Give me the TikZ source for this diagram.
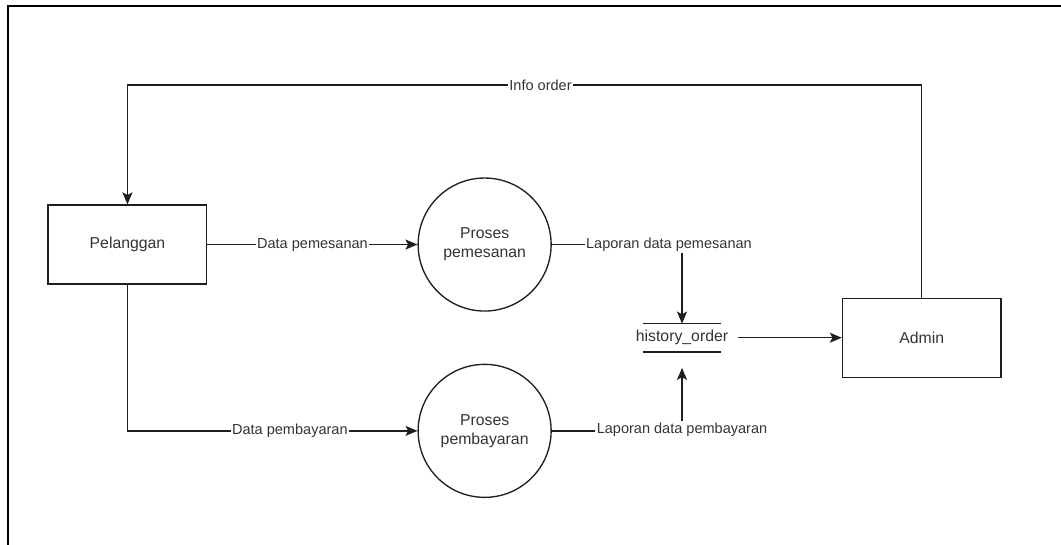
\documentclass[tikz,border=0pt]{standalone}
\usepackage{fontspec}
\setmainfont{Liberation Sans}
\usepackage{xcolor}
\definecolor{LineGray}{HTML}{1E1E1E}
\definecolor{TextGray}{HTML}{333333}
\usepackage{tikz}
\usetikzlibrary{arrows.meta,positioning}

\begin{document}
\begin{tikzpicture}[>={Stealth[length=9pt,width=7.5pt,inset=2pt]}, node distance=39pt, line width=1pt,
  every node/.style={font=\fontsize{11.85}{14.2}\selectfont, text=TextGray, align=center},
  box/.style={draw=LineGray, minimum width=119pt, minimum height=59.25pt, inner sep=0pt},
  proc/.style={draw=LineGray, circle, minimum size=99.75pt, inner sep=0pt},
  lbl/.style={fill=white, inner sep=1pt, font=\fontsize{10.9}{13}\selectfont},
  flow/.style={->, draw=LineGray}]
  \useasboundingbox (0,0) rectangle (795.75pt,-408.75pt);
  \draw[line width=1.1pt, black] (6pt,-408.75pt) -- (6pt,-4.5pt) -- (795.75pt,-4.5pt);

  \node[box] (pelanggan) at (95.6pt,-183.4pt) {Pelanggan};
  \node[proc, right=157.5pt of pelanggan] (pemesanan) {Proses\\pemesanan};
  \node[proc, below=of pemesanan] (pembayaran) {Proses\\pembayaran};
  \node[minimum height=20.25pt, inner sep=0pt] (store) at (511.5pt,-253.3pt) {history\_order};
  \draw[draw=LineGray] ([xshift=-29.6pt]store.north) -- ([xshift=29.6pt]store.north)
    ([xshift=-29.6pt]store.south) -- ([xshift=29.6pt]store.south);
  \node[box, right=84.75pt of store] (admin) {Admin};
  \coordinate (topline) at (0,-63.75pt);

  \draw[flow] (admin.north) -- (admin.north |- topline) -- node[lbl, pos=0.48] {Info order} (pelanggan.north |- topline) -- (pelanggan.north);
  \draw[flow] (pelanggan.east) -- node[lbl] {Data pemesanan} (pemesanan.west);
  \draw[flow] (pelanggan.south) |- node[lbl, pos=0.78] {Data pembayaran} (pembayaran.west);
  \draw[flow] (pemesanan.east) -| node[lbl, pos=0.45] {Laporan data pemesanan} (store.north);
  \draw[flow, shorten >=12pt] (pembayaran.east) -| node[lbl, pos=0.51] {Laporan data pembayaran} (store.south);
  \draw[flow] ([xshift=6.75pt]store.east) -- (admin.west);
\end{tikzpicture}
\end{document}
